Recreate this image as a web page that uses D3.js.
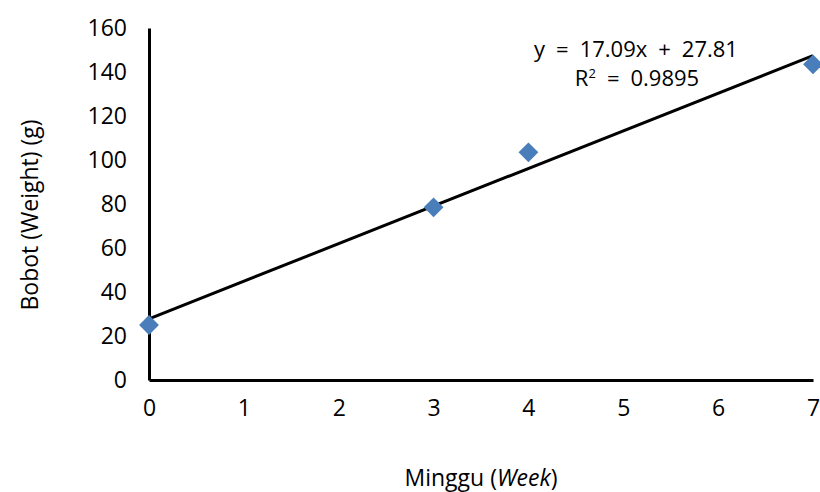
<!DOCTYPE html>
<html>
<head>
<meta charset="utf-8">
<script src="https://cdn.jsdelivr.net/npm/d3@7"></script>
<style>
  body { margin: 0; background: #fff; }
  text { font-family: 'Open Sans', sans-serif; fill: #000; }
</style>
</head>
<body>
<div id="chart"></div>
<script>
const weeks = [0, 3, 4, 7]
const weights = [25, 78.5, 103.5, 143.5]
const xTicks = [0, 1, 2, 3, 4, 5, 6, 7]
const yTicks = [0, 20, 40, 60, 80, 100, 120, 140, 160]
const slope = 17.09
const intercept = 27.81
const rSquared = '0.9895'

const width = 820
const height = 492
const margin = { top: 28, right: 7, bottom: 112, left: 149 }
const fontSize = 23

const svg = d3.select('#chart')
  .append('svg')
  .attr('width', width)
  .attr('height', height)

const x = d3.scaleLinear()
  .domain([0, 7])
  .range([margin.left, width - margin.right])

const y = d3.scaleLinear()
  .domain([0, 160])
  .range([height - margin.bottom, margin.top])

// axes
const xAxis = svg.append('g')
  .attr('transform', `translate(0, ${y(0)})`)
  .call(d3.axisBottom(x).tickValues(xTicks).tickFormat(d3.format('d')).tickSize(0).tickPadding(20))
xAxis.select('.domain').attr('stroke', '#000').attr('stroke-width', 3)
xAxis.selectAll('text').attr('font-size', fontSize).style('font-family', "'Open Sans', sans-serif")

const yAxis = svg.append('g')
  .attr('transform', `translate(${x(0)}, 0)`)
  .call(d3.axisLeft(y).tickValues(yTicks).tickFormat(d3.format('d')).tickSize(0).tickPadding(22))
yAxis.select('.domain').attr('stroke', '#000').attr('stroke-width', 3)
yAxis.selectAll('text').attr('font-size', fontSize).style('font-family', "'Open Sans', sans-serif")

// trendline
const trend = d3.line()
  .x(d => x(d))
  .y(d => y(slope * d + intercept))

svg.append('path')
  .datum([0, 7])
  .attr('fill', 'none')
  .attr('stroke', '#000')
  .attr('stroke-width', 3)
  .attr('d', trend)

// points
const data = weeks.map((w, i) => ({ w, v: weights[i] }))
svg.selectAll('.pt')
  .data(data)
  .enter()
  .append('path')
  .attr('class', 'pt')
  .attr('transform', d => `translate(${x(d.w)}, ${y(d.v)}) rotate(45)`)
  .attr('d', 'M-7,-7H7V7H-7Z')
  .attr('fill', '#4A7EBB')

// equation, two lines
svg.append('text')
  .attr('x', 636)
  .attr('y', 57)
  .attr('text-anchor', 'middle')
  .attr('font-size', 22)
  .text(`y\u2002=\u200217.09x\u2002+\u200227.81`)

const r2 = svg.append('text')
  .attr('x', 637)
  .attr('y', 86)
  .attr('text-anchor', 'middle')
  .attr('font-size', 22)
r2.append('tspan').text('R')
r2.append('tspan').attr('font-size', 13).attr('dy', -8).text('2')
r2.append('tspan').attr('dy', 8).text(`\u2002=\u2002${rSquared}`)

// axis titles
svg.append('text')
  .attr('transform', `translate(38, 215) rotate(-90)`)
  .attr('text-anchor', 'middle')
  .attr('font-size', fontSize)
  .text('Bobot (Weight) (g)')

const xt = svg.append('text')
  .attr('x', 481)
  .attr('y', 486)
  .attr('text-anchor', 'middle')
  .attr('font-size', fontSize)
xt.append('tspan').text('Minggu (')
xt.append('tspan').attr('font-style', 'italic').text('Week')
xt.append('tspan').text(')')
</script>
</body>
</html>
